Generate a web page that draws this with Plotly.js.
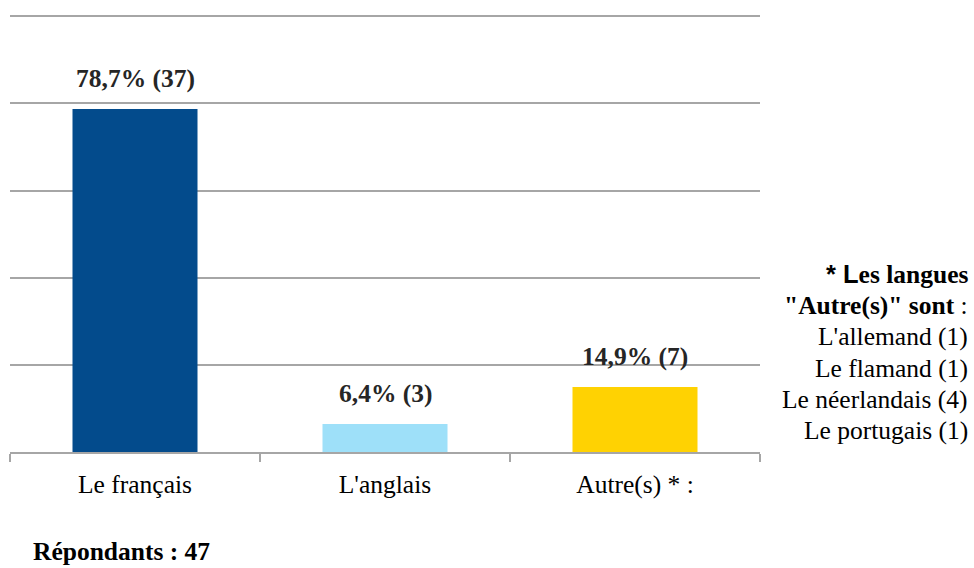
<!DOCTYPE html>
<html>
<head>
<meta charset="utf-8">
<script src="https://cdn.plot.ly/plotly-3.0.1.min.js"></script>
<style>html,body{margin:0;padding:0;background:#fff;}</style>
</head>
<body>
<div id="chart" style="width:974px;height:568px;"></div>
<script>
const categories = ["Le français", "L'anglais", "Autre(s) * :"];
const percents = [78.7, 6.4, 14.9];
const counts = [37, 3, 7];
const barColors = ["#034b8c", "#9ee0f9", "#ffd202"];
const yTicks = [0, 20, 40, 60, 80, 100];
const otherLangs = ["L'allemand", "Le flamand", "Le néerlandais", "Le portugais"];
const otherCounts = [1, 1, 4, 1];
const respondents = 47;

const serif = "Liberation Serif";
const fs = 25.5;
const gridColor = "#a6a6a6";

const trace = {
  type: "bar",
  x: categories,
  y: percents,
  marker: {color: barColors, line: {width: 0}},
  hoverinfo: "none",
  textposition: "none"
};

const annotations = [];
categories.forEach((c, i) => {
  annotations.push({
    x: c, y: percents[i], xref: "x", yref: "y",
    text: "<b>" + percents[i].toFixed(1).replace(".", ",") + "% (" + counts[i] + ")</b>",
    showarrow: false, yanchor: "middle", yshift: 31,
    font: {family: serif, size: fs, color: "#262626"}
  });
});

const sideLines = [
  "<b><span style=\"font-family:'Liberation Sans'\">* L</span>es langues</b>",
  "<b>\"Autre(s)\" sont</b> :"
].concat(otherLangs.map((l, i) => l + " (" + otherCounts[i] + ")"));

sideLines.forEach((t, i) => {
  annotations.push({
    xref: "paper", yref: "paper", x: 1.28, y: 0.406,
    xanchor: "right", yanchor: "middle", yshift: -i * 31.2,
    text: t, showarrow: false, align: "right",
    font: {family: serif, size: fs, color: "#000"}
  });
});

annotations.push({
  xref: "paper", yref: "paper", x: 0.028, y: -0.227,
  xanchor: "left", yanchor: "middle",
  text: "<b>Répondants : " + respondents + "</b>", showarrow: false,
  font: {family: serif, size: fs, color: "#000"}
});

const layout = {
  width: 974, height: 568,
  font: {family: serif},
  margin: {l: 10, r: 214, t: 15, b: 116, pad: 0},
  paper_bgcolor: "#fff", plot_bgcolor: "#fff",
  showlegend: false,
  bargap: 0.5,
  xaxis: {
    type: "category",
    showline: true, linecolor: gridColor, linewidth: 2,
    ticks: "outside", tickson: "boundaries", ticklen: 8, tickwidth: 2, tickcolor: gridColor,
    ticklabelstandoff: 8,
    tickfont: {family: serif, size: fs, color: "#000"},
    showgrid: false, zeroline: false, fixedrange: true
  },
  yaxis: {
    range: [0, 100.3],
    tickvals: yTicks,
    showticklabels: false,
    showgrid: true, gridcolor: gridColor, gridwidth: 2,
    zeroline: false, showline: false, ticks: "", fixedrange: true
  },
  annotations: annotations
};

Plotly.newPlot("chart", [trace], layout, {displayModeBar: false, staticPlot: true});
</script>
</body>
</html>
